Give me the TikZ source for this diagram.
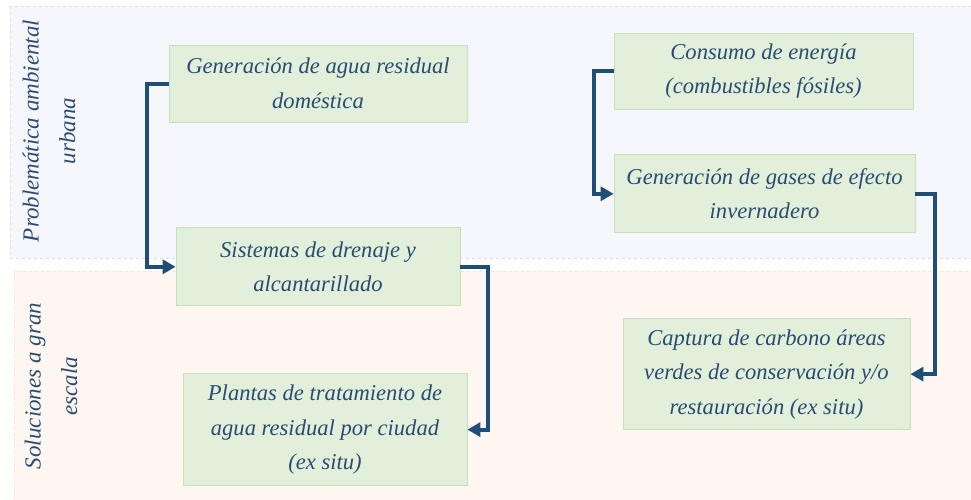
\documentclass[tikz,border=0pt]{standalone}
\usepackage{fontspec}
\setmainfont{Liberation Serif}
\usepackage{xcolor}
\usetikzlibrary{arrows.meta, positioning}

\definecolor{txtblue}{HTML}{2A4C72}
\definecolor{arrblue}{HTML}{1F4E79}
\definecolor{boxfill}{HTML}{E2EFDA}
\definecolor{boxline}{HTML}{C9DFBB}
\definecolor{bandtop}{HTML}{F6F6FD}
\definecolor{bandbot}{HTML}{FEF6F0}

\begin{document}
\begin{tikzpicture}[
  x=1pt, y=-1pt,
  box/.style={rectangle, draw=boxline, fill=boxfill, line width=0.8pt,
              align=center, text=txtblue, inner sep=0pt,
              font=\fontsize{22.6}{34.5}\selectfont\itshape},
  side/.style={rotate=90, align=center, text=txtblue,
               font=\fontsize{23}{36.5}\selectfont\itshape},
  arr/.style={-{Triangle[length=13pt,width=14pt]}, line width=4pt, draw=arrblue}
]
\useasboundingbox (0,0) rectangle (971,499);
% bands
\draw[blue!15, dashed, fill=bandtop] (10,6) rectangle (980,258);
\draw[orange!20, dashed, fill=bandbot] (14,271) rectangle (980,505);
\node[side] (urb) at (49,131) {Problemática ambiental\\urbana};
\node[side] (sol) at (51,386) {Soluciones a gran\\escala};

% left column
\node[box, minimum width=298pt, minimum height=77pt] (gar) at (318,83.5)
  {Generación de agua residual\\doméstica};
\node[box, minimum width=284pt, minimum height=78pt, below=105pt of gar.south, anchor=north] (sda)
  {Sistemas de drenaje y\\alcantarillado};
\node[box, minimum width=284pt, minimum height=112pt, below=67pt of sda.south, anchor=north, xshift=7pt] (ptar)
  {Plantas de tratamiento de\\agua residual por ciudad\\(ex situ)};

% right column
\node[box, minimum width=299pt, minimum height=76pt] (ener) at (763.5,71)
  {Consumo de energía\\(combustibles fósiles)};
\node[box, minimum width=301pt, minimum height=78pt, below=45pt of ener.south, anchor=north, xshift=1pt] (gei)
  {Generación de gases de efecto\\invernadero};
\node[box, minimum width=287pt, minimum height=111pt, below=85pt of gei.south, anchor=north, xshift=2pt] (cap)
  {Captura de carbono áreas\\verdes de conservación y/o\\restauración (ex situ)};

\draw[arr] (gar.west) -- ++(-22,0) |- (sda.west);
\draw[arr] (sda.east) -- ++(28,0) |- (ptar.east);
\draw[arr] (ener.west) -- ++(-20,0) |- (gei.west);
\draw[arr] (gei.east) -- ++(20,0) |- (cap.east);
\end{tikzpicture}
\end{document}
